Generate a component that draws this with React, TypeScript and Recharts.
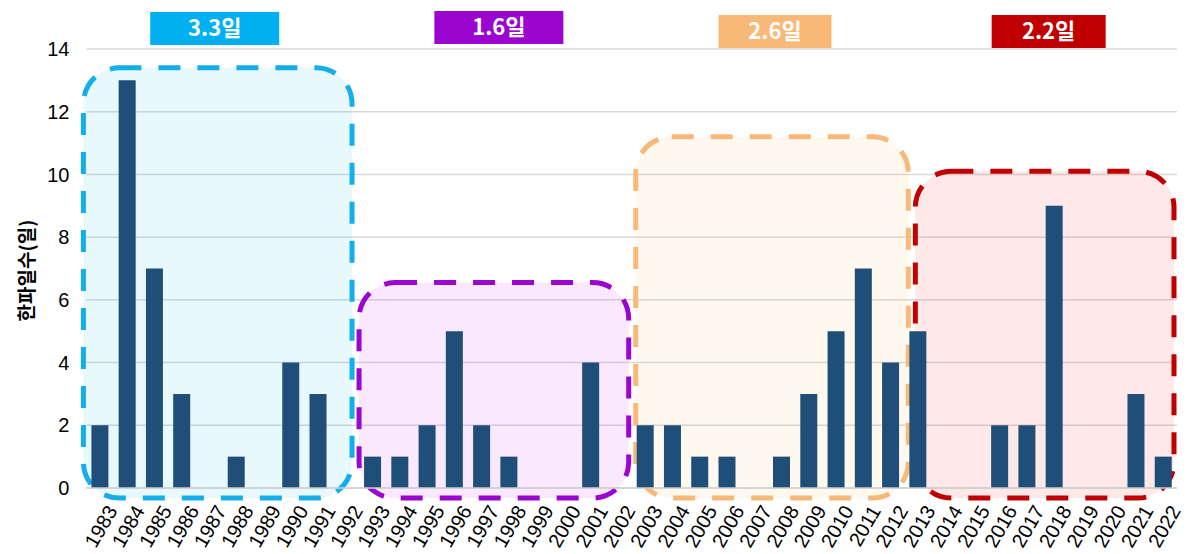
import React from "react";
import {
  BarChart,
  Bar,
  XAxis,
  YAxis,
  CartesianGrid,
  ReferenceArea,
} from "recharts";

// 연도별 한파일수
const years = [
  "1983", "1984", "1985", "1986", "1987", "1988", "1989", "1990", "1991", "1992",
  "1993", "1994", "1995", "1996", "1997", "1998", "1999", "2000", "2001", "2002",
  "2003", "2004", "2005", "2006", "2007", "2008", "2009", "2010", "2011", "2012",
  "2013", "2014", "2015", "2016", "2017", "2018", "2019", "2020", "2021", "2022",
];
const coldDays = [
  2, 13, 7, 3, 0, 1, 0, 4, 3, 0,
  1, 1, 2, 5, 2, 1, 0, 0, 4, 0,
  2, 2, 1, 1, 0, 1, 3, 5, 7, 4,
  5, 0, 0, 2, 2, 9, 0, 0, 3, 1,
];
const yTicks = [0, 2, 4, 6, 8, 10, 12, 14];

// 10년 구간과 평균
const periodStart = ["1983", "1993", "2003", "2013"];
const periodEnd = ["1992", "2002", "2012", "2022"];
const periodAverage = ["3.3일", "1.6일", "2.6일", "2.2일"];
const periodTop = [13.4, 6.55, 11.2, 10.1];
const periodBottom = -0.32;

// styling for the period boxes
const boxStroke = ["#14AEEA", "#9A06CF", "#F8B878", "#C00000"];
const boxFill = ["#00C0F8", "#C000F0", "#FFB040", "#F00000"];
const labelFill = ["#00B0F0", "#9A06CF", "#F8B878", "#C00000"];
const boxInset = [
  [-3, -7],
  [0, -3],
  [4, 4],
  [11, -3],
];
const labelShift = [-3, 5, 3, 4];
const labelTop = [12, 11, 15, 15];
const labelWidth = [129, 129, 113, 114];

const data = years.map((year, i) => ({ year, days: coldDays[i] }));

const YearTick = (props: any) => {
  const { x, y, payload } = props;
  const tx = x + 12;
  const ty = y + 19;
  return (
    <text
      x={tx}
      y={ty}
      dy="0.35em"
      textAnchor="end"
      transform={`rotate(-60 ${tx} ${ty})`}
      fontSize={20}
      fontFamily="'Liberation Sans', Arial, sans-serif"
      fill="#000"
    >
      {payload.value}
    </text>
  );
};

const periodShape = (i: number) => (props: any) => {
  const { x, y, width, height } = props;
  const left = x + boxInset[i][0];
  const right = x + width + boxInset[i][1];
  const cx = (left + right) / 2 + labelShift[i];
  const lw = labelWidth[i];
  return (
    <g>
      <rect
        x={left}
        y={y}
        width={right - left}
        height={height}
        rx={36}
        ry={36}
        fill={boxFill[i]}
        fillOpacity={0.09}
        stroke={boxStroke[i]}
        strokeWidth={5}
        strokeDasharray="22 17"
      />
      <rect x={cx - lw / 2} y={labelTop[i]} width={lw} height={33} fill={labelFill[i]} />
      <text
        x={cx}
        y={labelTop[i] + 16.5}
        dy="0.36em"
        textAnchor="middle"
        fill="#fff"
        fontWeight="bold"
        fontSize={22}
        fontFamily="'Noto Sans CJK KR', sans-serif"
      >
        {periodAverage[i]}
      </text>
    </g>
  );
};

export default function App() {
  return (
    <div style={{ position: "absolute", left: 0, top: 0, background: "#fff" }}>
      <BarChart
        width={1197}
        height={554}
        data={data}
        margin={{ top: 49, right: 20, left: 0, bottom: 0 }}
      >
        <CartesianGrid vertical={false} stroke="#D9D9D9" strokeWidth={1.5} />
        <XAxis
          dataKey="year"
          interval={0}
          height={66}
          tickLine={false}
          tickSize={0}
          tickMargin={0}
          axisLine={{ stroke: "#D0D0D0", strokeWidth: 1.5 }}
          tick={<YearTick />}
        />
        <YAxis
          width={86.4}
          domain={[0, 14]}
          ticks={yTicks}
          tickLine={false}
          axisLine={false}
          tickSize={0}
          tickMargin={17}
          tick={{
            fontSize: 20,
            fill: "#000",
            fontFamily: "'Liberation Sans', Arial, sans-serif",
          }}
          label={{
            content: (p: any) => {
              const vb = p.viewBox;
              const lx = vb.x + 27;
              const ly = vb.y + vb.height / 2 + 2;
              return (
                <text
                  x={lx}
                  y={ly}
                  dy="0.35em"
                  textAnchor="middle"
                  transform={`rotate(-90 ${lx} ${ly})`}
                  fontSize={19}
                  fontWeight="bold"
                  fontFamily="'Noto Sans CJK KR', sans-serif"
                  fill="#000"
                >
                  한파일수(일)
                </text>
              );
            },
          }}
        />
        <Bar dataKey="days" fill="#1F4E79" barSize={17} isAnimationActive={false} />
        {periodStart.map((start, i) => (
          <ReferenceArea
            key={start}
            x1={start}
            x2={periodEnd[i]}
            y1={periodBottom}
            y2={periodTop[i]}
            ifOverflow="visible"
            shape={periodShape(i)}
          />
        ))}
      </BarChart>
    </div>
  );
}
